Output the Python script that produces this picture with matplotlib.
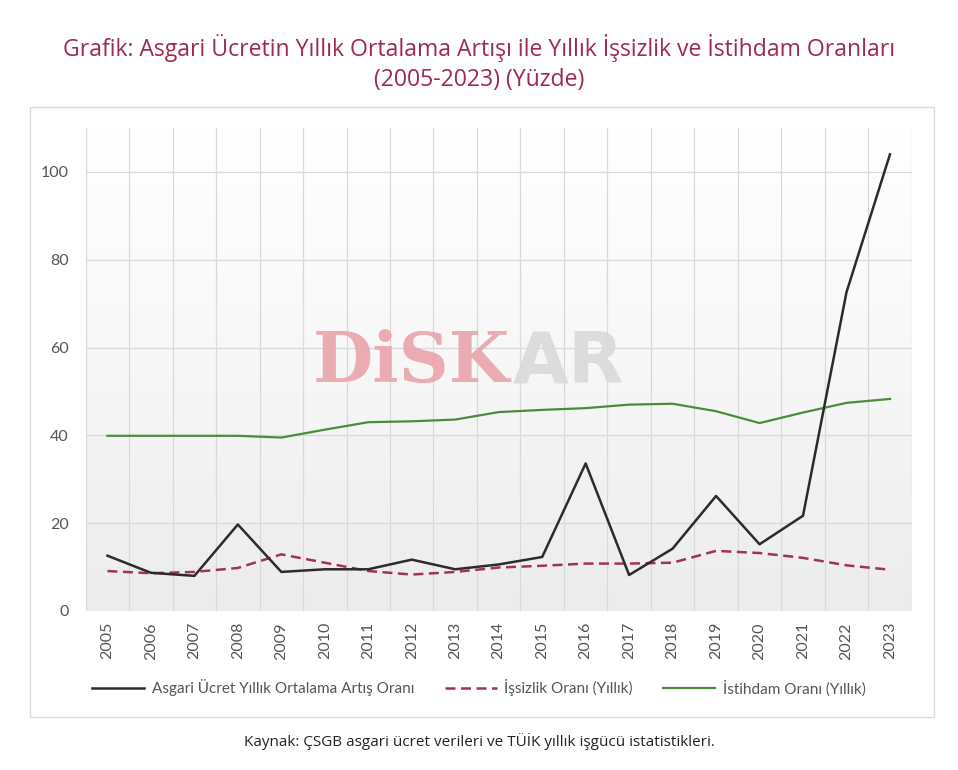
import matplotlib
matplotlib.use("Agg")
import matplotlib.pyplot as plt
import numpy as np
from matplotlib.patches import Rectangle
from matplotlib.colors import LinearSegmentedColormap

years = [str(y) for y in range(2005, 2024)]
asgari = [12.6, 8.7, 8.0, 19.7, 8.9, 9.5, 9.5, 11.7, 9.5, 10.6,
          12.3, 33.6, 8.2, 14.2, 26.2, 15.2, 21.7, 72.6, 104.0]
issizlik = [9.1, 8.6, 8.9, 9.8, 12.9, 11.0, 9.1, 8.3, 8.9, 9.9,
            10.3, 10.8, 10.8, 11.0, 13.7, 13.2, 12.1, 10.4, 9.4]
istihdam = [39.9, 39.9, 39.9, 39.9, 39.5, 41.3, 43.0, 43.2, 43.6, 45.3,
            45.8, 46.2, 47.0, 47.2, 45.5, 42.8, 45.2, 47.4, 48.3]
labels = ["Asgari Ücret Yıllık Ortalama Artış Oranı",
          "İşsizlik Oranı (Yıllık)",
          "İstihdam Oranı (Yıllık)"]
yticks = [0, 20, 40, 60, 80, 100]

plt.rcParams['font.family'] = ['Lato', 'DejaVu Sans']

W, H = 958, 770
fig = plt.figure(figsize=(W / 100, H / 100), dpi=100)
fig.patch.set_facecolor('white')

# outer box
fig.add_artist(Rectangle((30 / W, 1 - 717 / H), (934 - 30) / W, (717 - 107) / H,
                         transform=fig.transFigure, fill=False,
                         edgecolor='#dcdcdc', linewidth=1.0))

ax = fig.add_axes([85.7 / W, 1 - 611 / H, (911.7 - 85.7) / W, (611 - 128) / H])
x = np.arange(len(years))
ax.set_xlim(-0.5, len(years) - 0.5)
ax.set_ylim(0, 110)

# gradient background
grad = np.linspace(0, 1, 256).reshape(-1, 1)
cmap = LinearSegmentedColormap.from_list('g', ['#ececec', '#f7f7f7', '#ffffff'])
ax.imshow(grad, aspect='auto', cmap=cmap, extent=[-0.5, len(years) - 0.5, 0, 110],
          origin='lower', zorder=0)

for s in ax.spines.values():
    s.set_visible(False)

ax.set_yticks(yticks)
ax.set_xticks(x)
ax.set_xticklabels(years, rotation=90)
ax.set_xticks(np.arange(-0.5, len(years), 1.0), minor=True)
ax.tick_params(axis='both', which='both', length=0)
ax.tick_params(axis='y', labelsize=11.5, labelcolor='#555555', pad=12)
ax.tick_params(axis='x', labelsize=11.5, labelcolor='#555555', pad=8)
ax.grid(True, axis='y', which='major', color='#d9d9d9', linewidth=0.9, zorder=1)
ax.grid(True, axis='x', which='minor', color='#d9d9d9', linewidth=0.9, zorder=1)
ax.grid(False, axis='x', which='major')
ax.set_axisbelow(True)

# watermark
fig.text(313 / W, 1 - 382 / H, "DiSK", fontsize=50, fontweight='bold',
         family='DejaVu Serif', color='#eaa3ab', alpha=0.9, ha='left', va='baseline', zorder=2)
fig.text(513 / W, 1 - 382 / H, "AR", fontsize=52, fontweight='bold',
         family='DejaVu Sans', color='#dadada', alpha=0.9, ha='left', va='baseline', zorder=2)

l1, = ax.plot(x, asgari, color='#2b2b2b', linewidth=1.8, zorder=5,
              solid_joinstyle='round', label=labels[0])
l2, = ax.plot(x, issizlik, color='#a3344d', linewidth=1.8, linestyle=(0, (4, 2.2)),
              zorder=4, label=labels[1])
l3, = ax.plot(x, istihdam, color='#4b8c3c', linewidth=1.6, zorder=4, label=labels[2])

leg = fig.legend(handles=[l1, l2, l3], loc='center', bbox_to_anchor=(0.5, 1 - 688 / H),
                 ncol=3, frameon=False, fontsize=11, handlelength=3.4,
                 columnspacing=2.0, handletextpad=0.5)
for t in leg.get_texts():
    t.set_color('#555555')

title_font = ['Open Sans', 'DejaVu Sans']
fig.text(0.5, 1 - 48 / H,
         "Grafik: Asgari Ücretin Yıllık Ortalama Artışı ile Yıllık İşsizlik ve İstihdam Oranları",
         ha='center', va='center', fontsize=16.6, color='#9e2b4b', family=title_font)
fig.text(0.5, 1 - 80 / H, "(2005-2023) (Yüzde)",
         ha='center', va='center', fontsize=16.6, color='#9e2b4b', family=title_font)
fig.text(0.5, 1 - 742 / H,
         "Kaynak: ÇSGB asgari ücret verileri ve TÜİK yıllık işgücü istatistikleri.",
         ha='center', va='center', fontsize=11, color='#222222', family=title_font)

fig.savefig('out.png', dpi=100, facecolor='white')
